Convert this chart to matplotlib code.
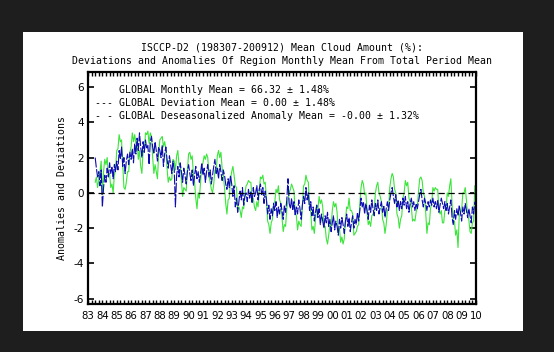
import numpy as np
import matplotlib.pyplot as plt
from matplotlib.patches import Rectangle

# ISCCP-D2 global mean cloud amount, July 1983 .. December 2009
START = 1983.5

# deviation from total period mean (green)
deviation = [
    0.6, 0.9, 0.3, 0.7, 1.2, 1.8,                                   # 1983 Jul-Dec
    -0.1, 1.2, 1.9, 1.6, 2.0, 1.0, 1.1, 0.3, 0.5, 0.0, 1.0, 1.3,    # 1984
    2.4, 2.5, 3.3, 2.9, 3.0, 1.6, 0.3, 0.2, 0.6, 1.2, 1.2, 2.3,     # 1985
    2.6, 3.4, 2.9, 3.3, 2.8, 3.0, 1.9, 2.4, 1.5, 1.1, 2.4, 2.3,     # 1986
    3.4, 3.3, 3.5, 2.8, 3.4, 3.2, 2.0, 1.1, 1.6, 1.2, 0.8, 2.2,     # 1987
    3.0, 3.1, 3.2, 2.6, 2.9, 2.5, 1.4, 0.6, 0.9, 0.7, 0.8, 1.9,     # 1988
    1.8, 1.3, 2.1, 2.4, 1.6, 1.6, 0.7, -0.2, 0.3, 0.2, 0.1, 1.3,    # 1989
    2.2, 2.3, 1.9, 2.1, 1.1, 0.6, -0.3, -0.9, 0.0, -0.3, 0.6, 1.5,  # 1990
    1.7, 2.1, 1.9, 2.2, 2.0, 1.0, 0.6, 0.2, 0.0, 0.5, 1.3, 1.2,     # 1991
    2.1, 2.4, 2.0, 2.3, 1.4, 1.0, 0.3, -0.6, -1.2, -0.4, -0.3, 0.8, # 1992
    1.2, 1.5, 1.0, 0.4, 0.3, -0.9, -0.8, -1.0, -1.4, -0.8, -0.9, -0.1,  # 1993
    0.4, 0.5, 0.7, 0.6, 0.6, -0.4, -0.3, -0.8, -1.0, -0.5, -0.8, 0.1,   # 1994
    0.9, 0.8, 1.0, 0.5, 0.6, -0.3, -1.6, -1.8, -2.3, -1.7, -1.5, -0.6,  # 1995
    -0.5, 0.2, 0.0, 0.4, -0.4, -0.6, -1.4, -2.2, -1.8, -1.9, -0.9, -0.4,  # 1996
    0.0, 0.2, 0.5, 0.3, 0.1, -1.1, -1.3, -2.1, -1.6, -1.8, -1.9, -0.8,  # 1997
    0.4, 0.5, 1.0, 0.7, 0.6, -0.8, -1.1, -2.1, -1.9, -2.3, -1.5, -0.7,  # 1998
    -0.9, -0.2, -0.6, -0.4, -0.8, -1.9, -1.9, -2.6, -2.9, -2.4, -1.8, -1.9,  # 1999
    -1.0, -0.5, -0.8, -0.6, -1.1, -2.2, -2.0, -2.8, -2.5, -2.9, -2.6, -1.5,  # 2000
    -0.8, -0.9, -0.3, -1.0, -1.0, -1.2, -2.4, -2.3, -2.2, -1.9, -1.8, -0.6,  # 2001
    0.3, 0.7, 0.5, -0.1, 0.0, -1.0, -1.8, -1.6, -1.9, -1.3, -1.2, -1.0,  # 2002
    0.0, 0.4, 0.6, 0.0, -0.2, -0.5, -1.5, -1.7, -2.3, -1.8, -1.0, -0.9,  # 2003
    0.3, 0.8, 1.1, 0.9, 0.2, 0.0, -1.2, -1.4, -2.0, -1.5, -1.3, -0.3,   # 2004
    0.0, 0.7, 0.4, 0.6, -0.3, -0.5, -0.8, -1.6, -1.5, -1.6, -1.1, -0.8,  # 2005
    0.1, 0.8, 0.9, 0.7, 0.0, -0.2, -1.1, -2.3, -1.7, -1.8, -0.9, -0.6,   # 2006
    0.3, 0.1, 0.3, 0.2, 0.2, -1.0, -1.2, -1.0, -1.7, -1.7, -1.0, -0.9,   # 2007
    0.0, -0.2, 0.4, 0.8, -0.6, -1.7, -1.6, -2.4, -2.1, -3.1, -1.3, -1.1, # 2008
    -1.0, 0.0, 0.0, 0.3, -0.4, -1.3, -1.5, -2.2, -2.3, -1.7, -1.6, 0.4,  # 2009
]

# deseasonalized anomaly (blue)
anomaly = [
    2.0, 1.4, 0.9, 1.2, 0.4, 1.3,                                   # 1983 Jul-Dec
    -0.8, 0.3, 1.0, 0.6, 1.4, 0.9, 1.7, 1.1, 1.5, 0.8, 1.6, 1.2,    # 1984
    1.8, 1.3, 2.4, 1.9, 2.6, 1.5, 2.0, 1.1, 1.8, 2.2, 1.6, 2.3,     # 1985
    1.9, 2.5, 1.7, 2.8, 2.2, 3.1, 2.4, 3.4, 2.6, 2.0, 2.9, 2.3,     # 1986
    3.0, 2.5, 2.7, 1.6, 2.9, 3.2, 2.6, 2.2, 2.9, 2.4, 1.8, 2.6,     # 1987
    2.4, 2.0, 2.7, 1.5, 2.2, 2.6, 1.9, 1.4, 2.1, 1.6, 1.1, 1.8,     # 1988
    1.3, -0.8, 1.0, 1.5, 0.9, 1.7, 1.2, 0.6, 1.4, 1.0, 0.5, 1.2,    # 1989
    1.6, 1.1, 0.7, 1.3, 0.4, 1.0, 1.5, 0.8, 1.2, 0.6, 1.1, 1.7,     # 1990
    1.0, 1.4, 0.6, 1.2, 1.6, 0.9, 1.3, 0.5, 1.0, 1.5, 1.9, 1.1,     # 1991
    1.4, 0.8, 1.6, 1.2, 0.7, 1.3, 1.0, 0.5, 0.2, 0.8, 0.3, 1.0,     # 1992
    0.5, -0.2, 0.4, -0.8, -0.3, -1.1, -0.5, 0.1, -0.4, 0.3, -0.7, -0.2,  # 1993
    0.0, -0.5, 0.2, -0.3, 0.1, -0.6, 0.3, -0.2, 0.0, 0.4, -0.4, 0.2,     # 1994
    0.5, -0.1, 0.3, -0.6, 0.1, -0.4, -1.2, -0.7, -1.5, -0.9, -1.3, -0.6, # 1995
    -1.0, -0.5, -1.4, -0.8, -1.2, -0.6, -1.0, -1.5, -0.7, -1.1, -0.4, 0.8,  # 1996
    -0.6, -0.9, -0.3, -1.0, -0.5, -1.3, -0.8, -1.2, -0.4, -0.9, -1.5, -0.7, # 1997
    -0.2, -0.6, 0.3, -0.4, 0.0, -1.0, -0.5, -1.3, -0.8, -1.6, -1.1, -0.7,  # 1998
    -1.4, -0.9, -1.8, -1.2, -1.6, -2.0, -1.3, -1.7, -1.1, -1.9, -1.5, -2.2, # 1999
    -1.7, -1.3, -2.1, -1.6, -1.9, -2.4, -1.5, -2.0, -1.4, -1.8, -2.3, -1.6, # 2000
    -1.2, -1.9, -1.4, -2.2, -1.7, -1.3, -2.0, -1.5, -1.8, -1.1, -1.6, -1.0, # 2001
    -0.3, -0.8, -0.5, -1.2, -0.6, -1.0, -1.5, -0.7, -1.1, -0.4, -0.9, -1.3, # 2002
    -0.6, -1.0, -0.4, -1.2, -0.8, -0.5, -1.1, -0.7, -1.4, -0.9, -0.5, -1.0, # 2003
    -0.4, 0.0, 0.3, -0.2, -0.6, -0.1, -0.8, -0.4, -1.0, -0.5, -0.9, -0.3,   # 2004
    -0.7, -0.2, -0.9, -0.5, -1.1, -0.6, -0.3, -0.8, -0.5, -1.0, -0.6, -0.9, # 2005
    -0.5, -0.1, 0.2, -0.4, -0.8, -0.3, -0.6, -1.0, -0.5, -0.8, -0.4, -0.7,  # 2006
    -0.3, -0.8, -0.5, -0.9, -0.4, -1.1, -0.7, -0.3, -0.6, -0.9, -0.5, -1.0, # 2007
    -0.6, -1.2, -0.8, -0.4, -1.4, -1.8, -1.0, -1.5, -0.9, -1.3, -0.7, -1.1, # 2008
    -1.6, -0.8, -1.2, -0.6, -1.0, -1.4, -0.9, -1.3, -1.7, -0.8, -1.2, -0.5, # 2009
]

year_labels = ['83', '84', '85', '86', '87', '88', '89', '90', '91', '92',
               '93', '94', '95', '96', '97', '98', '99', '00', '01', '02',
               '03', '04', '05', '06', '07', '08', '09', '10']
y_ticks = [-6, -4, -2, 0, 2, 4, 6]

title_lines = ['ISCCP-D2 (198307-200912) Mean Cloud Amount (%):',
               'Deviations and Anomalies Of Region Monthly Mean From Total Period Mean']
legend_lines = ['    GLOBAL Monthly Mean = 66.32 \u00b1 1.48%',
                '--- GLOBAL Deviation Mean = 0.00 \u00b1 1.48%',
                '- - GLOBAL Deseasonalized Anomaly Mean = -0.00 \u00b1 1.32%']

W, H = 554, 352
MONO = 'DejaVu Sans Mono'

fig = plt.figure(figsize=(W / 100, H / 100), dpi=100, facecolor='#1e1e1e')
# white page behind the plot
fig.patches.append(Rectangle((23 / W, 1 - 331 / H), 500 / W, 299 / H,
                             transform=fig.transFigure, facecolor='white',
                             edgecolor='none', zorder=-5))

ax = fig.add_axes([88 / W, 1 - 304 / H, 388 / W, 232 / H])

months = START + np.arange(len(deviation)) / 12.0
ax.plot(months, deviation, color='#3ce43c', lw=0.8, zorder=2)
ax.plot(months, anomaly, color='#0c0cb0', lw=0.8, ls=(0, (9, 1.5)), zorder=3)
ax.axhline(0, color='black', lw=0.9, ls=(0, (5, 3)), zorder=4)

ax.set_xlim(1983, 2010)
ax.set_ylim(-6.3, 6.85)

ax.set_xticks(np.arange(1983, 2011))
ax.set_xticklabels(year_labels, fontsize=7.3, family='DejaVu Sans')
ax.set_xticks(np.arange(1983, 2010.01, 0.25), minor=True)
ax.tick_params(axis='x', which='both', direction='in', length=3, width=1,
               top=True, bottom=True, pad=5)
ax.set_yticks(y_ticks)
ax.set_yticklabels([str(v) for v in y_ticks], fontsize=7.5, family='DejaVu Sans')
ax.tick_params(axis='y', direction='in', length=4, width=1.2,
               left=True, right=True, pad=3)
for s in ax.spines.values():
    s.set_linewidth(1.6)

for i, line in enumerate(title_lines):
    fig.text(282 / W, 1 - (48 + 13 * i) / H, line, ha='center', va='center',
             family=MONO, fontsize=7.1)

for i, line in enumerate(legend_lines):
    fig.text(95 / W, 1 - (90 + 13 * i) / H, line, ha='left', va='center',
             family=MONO, fontsize=7.1)

fig.text(62 / W, 1 - 188 / H, 'Anomalies and Deviations', rotation=90,
         ha='center', va='center', family=MONO, fontsize=7.1)

fig.savefig('out.png', dpi=100, facecolor=fig.get_facecolor())
